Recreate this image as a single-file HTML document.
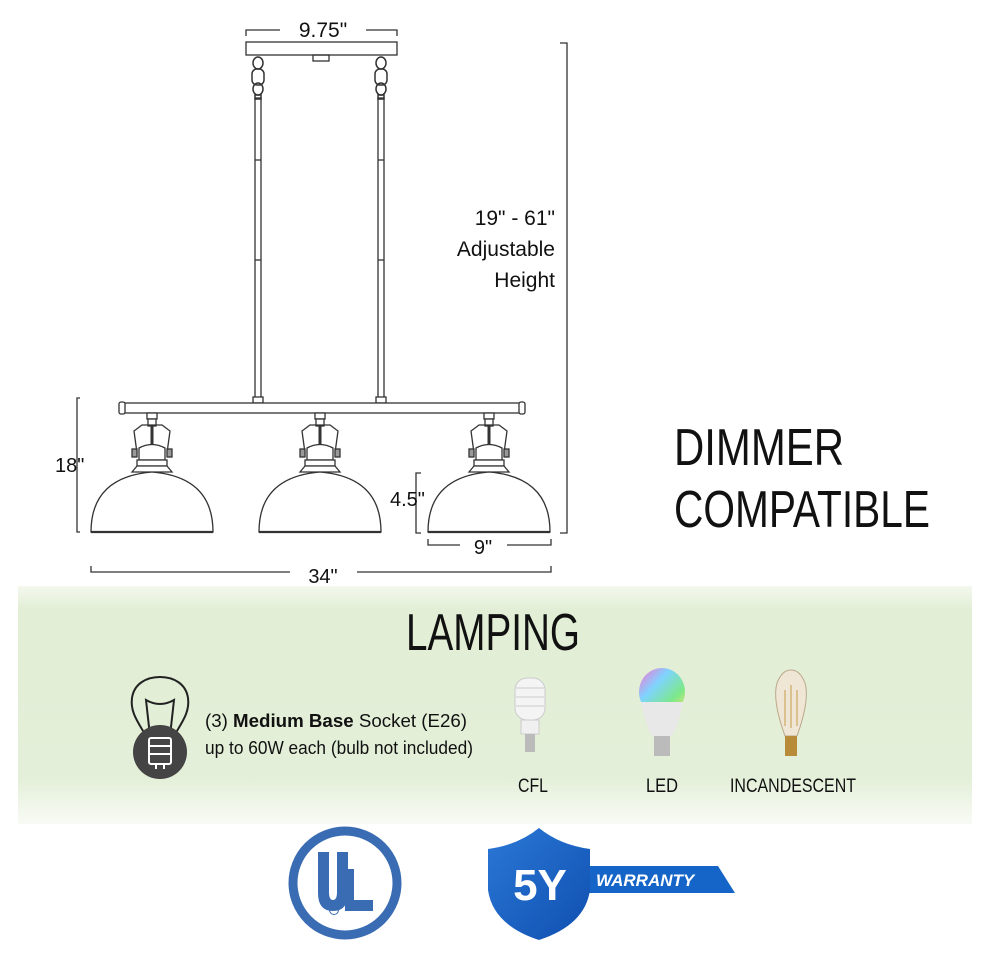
<!DOCTYPE html>
<html><head><meta charset="utf-8"><style>
html,body{margin:0;padding:0;background:#fff}
svg{display:block}
text{font-family:"Liberation Sans",sans-serif;fill:#111}
</style></head><body>
<svg width="990" height="960" viewBox="0 0 990 960" xmlns="http://www.w3.org/2000/svg">
<defs>
<linearGradient id="band" x1="0" y1="0" x2="0" y2="1">
<stop offset="0" stop-color="#f4f8ef"/><stop offset="0.1" stop-color="#e2eed5"/>
<stop offset="0.8" stop-color="#e3efd8"/><stop offset="1" stop-color="#f8fbf5"/>
</linearGradient>
<linearGradient id="led" x1="0" y1="0" x2="1" y2="1">
<stop offset="0" stop-color="#ff6fd0"/><stop offset="0.35" stop-color="#7fd3ff"/><stop offset="0.7" stop-color="#7de88a"/><stop offset="1" stop-color="#ffe36b"/>
</linearGradient>
<linearGradient id="shield" x1="0" y1="0" x2="1" y2="1">
<stop offset="0" stop-color="#2b78d6"/><stop offset="1" stop-color="#0f4fb0"/>
</linearGradient>
<g id="pend" fill="none" stroke="#333" stroke-width="1.3">
<rect x="-5" y="0" width="10" height="6" fill="#fff"/>
<rect x="-4" y="6" width="8" height="7" fill="#fff"/>
<path d="M-15 40 L-18 18 L-10 12 L10 12 L18 18 L15 40"/>
<line x1="0" y1="13" x2="0" y2="33" stroke-width="3"/>
<rect x="-20" y="36" width="5" height="8" fill="#999"/>
<rect x="15" y="36" width="5" height="8" fill="#999"/>
<path d="M-13 47 L-13 35 Q0 28 13 35 L13 47 Z" fill="#fff"/>
<rect x="-15" y="47" width="30" height="6" fill="#fff"/>
<path d="M-20 59 L-15 53 L15 53 L20 59 Z" fill="#fff"/>
<path d="M-61 119 Q-61 64 0 59 Q61 64 61 119 Z" fill="#fff"/>
<line x1="-61" y1="119" x2="61" y2="119" stroke-width="2.2"/>
</g>
<g id="chain" fill="none" stroke="#333" stroke-width="1.5">
<ellipse cx="0" cy="8" rx="5" ry="6"/>
<rect x="-6" y="14" width="12" height="16" rx="5"/>
<ellipse cx="0" cy="34" rx="5" ry="6"/>
<rect x="-3" y="40" width="6" height="4"/>
</g>
</defs>

<g stroke="#333" stroke-width="1.3" fill="none">
<path d="M246 36 V30 H280 M366 30 H397 V36"/>
<rect x="246" y="42" width="151" height="13" fill="#fff"/>
<rect x="313" y="55" width="16" height="6"/>
<rect x="255" y="98" width="6" height="304" fill="#fff"/>
<rect x="378" y="98" width="6" height="304" fill="#fff"/>
<line x1="255" y1="160" x2="261" y2="160"/><line x1="255" y1="260" x2="261" y2="260"/>
<line x1="378" y1="160" x2="384" y2="160"/><line x1="378" y1="260" x2="384" y2="260"/>
<rect x="253" y="397" width="10" height="6" fill="#fff"/>
<rect x="376" y="397" width="10" height="6" fill="#fff"/>
<rect x="124" y="403" width="396" height="10" fill="#fff"/>
<rect x="119" y="402" width="6" height="12" rx="2" fill="#fff"/>
<rect x="519" y="402" width="6" height="12" rx="2" fill="#fff"/>
<path d="M560 43 H567 V533 H560"/>
<path d="M80 398 H77 V532 H80"/>
<path d="M421 473 H416 V533 H421"/>
<path d="M428 539 V545 H460 M507 545 H551 V539"/>
<path d="M91 566 V572 H290 M357 572 H551 V566"/>
</g>
<use href="#chain" x="258" y="55"/>
<use href="#chain" x="381" y="55"/>
<use href="#pend" x="152" y="413"/>
<use href="#pend" x="320" y="413"/>
<use href="#pend" x="489" y="413"/>

<text x="323" y="37" font-size="21" text-anchor="middle">9.75"</text>
<text x="555" y="225" font-size="21" text-anchor="end">19" - 61"</text>
<text x="555" y="256" font-size="21" text-anchor="end">Adjustable</text>
<text x="555" y="287" font-size="21" text-anchor="end">Height</text>
<text x="55" y="472" font-size="20">18"</text>
<text x="390" y="506" font-size="20">4.5"</text>
<text x="483" y="554" font-size="20" text-anchor="middle">9"</text>
<text x="323" y="583" font-size="20" text-anchor="middle">34"</text>
<text x="674" y="465" font-size="52" textLength="170" lengthAdjust="spacingAndGlyphs">DIMMER</text>
<text x="674" y="527" font-size="52" textLength="256" lengthAdjust="spacingAndGlyphs">COMPATIBLE</text>

<rect x="18" y="586" width="954" height="238" fill="url(#band)"/>
<text x="493" y="650" font-size="52" text-anchor="middle" textLength="174" lengthAdjust="spacingAndGlyphs">LAMPING</text>

<path d="M146 736 C138 722 130 712 132 698 C134 684 146 677 160 677 C174 677 186 684 188 698 C190 712 182 722 174 736" fill="none" stroke="#222" stroke-width="2"/>
<path d="M150 736 L146 700 Q160 708 174 700 L170 736" fill="none" stroke="#222" stroke-width="2"/>
<ellipse cx="160" cy="752" rx="27" ry="27" fill="#444"/>
<g stroke="#fff" stroke-width="2" fill="none">
<rect x="149" y="738" width="22" height="26" rx="2"/>
<line x1="149" y1="746" x2="171" y2="746"/><line x1="149" y1="754" x2="171" y2="754"/>
<line x1="156" y1="764" x2="156" y2="769"/><line x1="164" y1="764" x2="164" y2="769"/>
</g>
<text x="205" y="727" font-size="18" textLength="262" lengthAdjust="spacingAndGlyphs">(3) <tspan font-weight="bold">Medium Base</tspan> Socket (E26)</text>
<text x="205" y="754" font-size="18" textLength="268" lengthAdjust="spacingAndGlyphs">up to 60W each (bulb not included)</text>

<g>
<rect x="515" y="678" width="30" height="42" rx="12" fill="#f4f4f4" stroke="#ccc"/>
<path d="M516 688 H544 M516 697 H544 M516 706 H544" stroke="#ccc"/>
<rect x="521" y="720" width="18" height="14" fill="#f0f0f0" stroke="#ccc"/>
<rect x="525" y="734" width="10" height="18" fill="#bbb"/>
</g>
<text x="533" y="792" font-size="19" text-anchor="middle" textLength="30" lengthAdjust="spacingAndGlyphs">CFL</text>
<g>
<ellipse cx="662" cy="692" rx="23" ry="24" fill="url(#led)"/>
<path d="M641 702 Q645 724 652 736 H672 Q679 724 683 702 Z" fill="#e8e8e8"/>
<rect x="654" y="736" width="16" height="20" fill="#bbb"/>
</g>
<text x="662" y="792" font-size="19" text-anchor="middle" textLength="32" lengthAdjust="spacingAndGlyphs">LED</text>
<g>
<path d="M785 736 Q772 700 777 683 Q782 670 791 670 Q800 670 805 683 Q810 700 797 736 Z" fill="#efe6d6" stroke="#bba889"/>
<path d="M785 690 V726 M791 685 V728 M797 690 V726" stroke="#c79a4a"/>
<rect x="785" y="736" width="12" height="20" fill="#b78b3a"/>
</g>
<text x="793" y="792" font-size="19" text-anchor="middle" textLength="126" lengthAdjust="spacingAndGlyphs">INCANDESCENT</text>

<circle cx="345" cy="883" r="52" fill="none" stroke="#3a6cb4" stroke-width="9"/>
<path d="M318 852 H329 V892 Q329 900 333 900 Q337 900 337 892 V852 H348 V893 Q348 911 333 911 Q318 911 318 893 Z" fill="#3a6cb4"/>
<path d="M345 869 H354 V900 H373 V911 H345 Z" fill="#3a6cb4"/>
<circle cx="334" cy="910" r="4.5" fill="none" stroke="#3a6cb4" stroke-width="1"/>

<path d="M580 866 H718 L735 893 H580 Z" fill="#1565c8"/>
<text x="596" y="886" font-size="17" font-weight="bold" font-style="italic" style="fill:#fff">WARRANTY</text>
<path d="M539 828 Q560 845 590 849 V890 Q585 925 539 940 Q493 925 488 890 V849 Q518 845 539 828 Z" fill="url(#shield)"/>
<text x="540" y="900" font-size="44" font-weight="bold" text-anchor="middle" style="fill:#fff">5Y</text>
</svg>
</body></html>
